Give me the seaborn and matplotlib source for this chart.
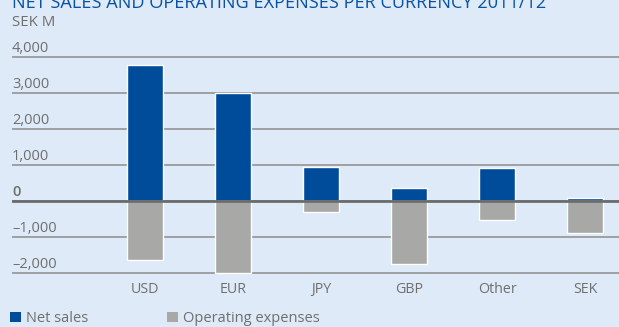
import matplotlib
matplotlib.use("Agg")
import matplotlib.pyplot as plt
import matplotlib.transforms as mtransforms
from matplotlib.patches import Patch
import pandas as pd
import seaborn as sns

# Figures in SEK M per currency
currencies = ["USD", "EUR", "JPY", "GBP", "Other", "SEK"]
net_sales = [3760, 3000, 950, 350, 920, 75]
operating_expenses = [-1640, -1980, -300, -1750, -520, -875]
series_names = ["Net sales", "Operating expenses"]
y_ticks = [4000, 3000, 2000, 1000, 0, -1000, -2000]
y_tick_labels = ["4,000", "3,000", "2,000", "1,000", "0", "\u20131,000", "\u20132,000"]
title = "NET SALES AND OPERATING EXPENSES PER CURRENCY 2011/12"
unit_label = "SEK M"

BG = "#deeaf7"
BLUE = "#004b9a"
GREY = "#a8a8a6"
TEXT = "#6f6f6f"
TITLE_BLUE = "#0a52a3"

df = pd.DataFrame({
    "currency": currencies * 2,
    "series": [series_names[0]] * len(currencies) + [series_names[1]] * len(currencies),
    "value": net_sales + operating_expenses,
})

sns.set_theme(style="white")
plt.rcParams["font.family"] = ["Open Sans", "DejaVu Sans"]

W, H = 619, 327
fig = plt.figure(figsize=(W / 100, H / 100), dpi=100, facecolor=BG)
ax = fig.add_axes([12 / W, 0.1587, 1 - 12 / W, 0.6734])
ax.set_facecolor(BG)

palette = {series_names[0]: BLUE, series_names[1]: GREY}
sns.barplot(data=df, x="currency", y="value", hue="series", order=currencies,
            hue_order=series_names, palette=palette, dodge=False, width=0.41,
            saturation=1, errorbar=None, legend=False, ax=ax, zorder=2)

ax.set_xlim(-1.511, 5.386)
ax.set_ylim(-2050, 4050)
for s in ax.spines.values():
    s.set_visible(False)

# horizontal gridlines behind the bars, heavier zero line on top
ax.set_yticks(y_ticks)
ax.set_yticklabels([])
ax.tick_params(axis="y", length=0)
ax.yaxis.grid(True, color="#8c8c8c", linewidth=1.1)
ax.set_axisbelow(True)
ax.axhline(0, color="#6c6c6c", linewidth=2.0, zorder=3)

# y labels sit above their gridlines at the left edge
lab_tr = mtransforms.offset_copy(ax.get_yaxis_transform(), fig=fig, x=0, y=5, units="dots")
for v, lab in zip(y_ticks, y_tick_labels):
    ax.text(0, v, lab, transform=lab_tr, ha="left", va="baseline", fontsize=10.5,
            color=TEXT, fontweight="semibold" if v == 0 else "normal")

ax.set_xlabel("")
ax.set_ylabel("")
ax.tick_params(axis="x", length=0, pad=5, labelsize=10.3, labelcolor=TEXT)

# heading runs into the top edge of the panel
fig.text(12 / W, 1 - 8.5 / H, title, ha="left", va="baseline", fontsize=13.1, color=TITLE_BLUE)
fig.text(12 / W, 1 - 25.5 / H, unit_label, ha="left", va="baseline", fontsize=10.8, color=TEXT)

handles = [Patch(facecolor=BLUE, edgecolor="none"), Patch(facecolor=GREY, edgecolor="none")]
fig.legend(handles, series_names, loc="center left", bbox_to_anchor=(10 / W, 1 - 318.5 / H),
           ncol=2, frameon=False, fontsize=10.5, labelcolor=TEXT, handlelength=0.75,
           handleheight=0.75, handletextpad=0.35, columnspacing=5.4, borderpad=0,
           borderaxespad=0)

fig.savefig("out.png", dpi=100, facecolor=BG)
